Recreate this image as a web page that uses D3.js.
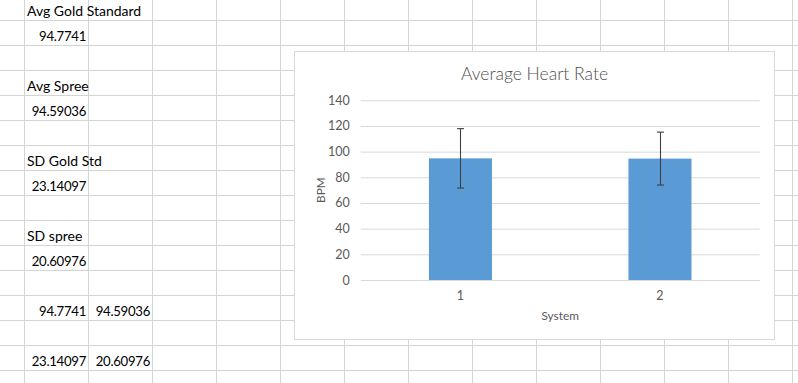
<!DOCTYPE html>
<html><head><meta charset="utf-8">
<script src="https://cdn.jsdelivr.net/npm/d3@7"></script>
<style>
html,body{margin:0;padding:0;background:#fff;overflow:hidden;}
svg{display:block;}
</style></head>
<body>
<svg id="c" width="798" height="383"></svg>
<script>
// ---- data ----
const categories = ["1", "2"];
const avgBPM = [94.7741, 94.59036];
const sdBPM = [23.14097, 20.60976];
const yTicks = [0, 20, 40, 60, 80, 100, 120, 140];
const chartTitle = "Average Heart Rate";
const xTitle = "System";
const yTitle = "BPM";
// spreadsheet cell texts, row by row (columns A, B)
const sheetRows = [
  ["Avg Gold Standard"],
  ["94.7741"],
  [],
  ["Avg Spree"],
  ["94.59036"],
  [],
  ["SD Gold Std"],
  ["23.14097"],
  [],
  ["SD spree"],
  ["20.60976"],
  [],
  ["94.7741", "94.59036"],
  [],
  ["23.14097", "20.60976"],
  []
];

const svg = d3.select("#c");
const W = 798, H = 383;
const colW = 64, rowH = 25, col0 = 24.5, row0 = 20.5;
const gridColor = "#d4d4d4";
const cellFont = "Lato, 'Open Sans', sans-serif";

// spreadsheet grid
const g = svg.append("g");
for (let x = col0; x < W; x += colW)
  g.append("line").attr("x1", x).attr("x2", x).attr("y1", 0).attr("y2", H)
   .attr("stroke", gridColor).attr("stroke-width", 1);
for (let y = row0; y < H; y += rowH)
  g.append("line").attr("x1", 0).attr("x2", W).attr("y1", y).attr("y2", y)
   .attr("stroke", gridColor).attr("stroke-width", 1);

// cell texts
sheetRows.forEach((row, ri) => {
  row.forEach((txt, ci) => {
    const isNum = !isNaN(+txt);
    const left = col0 + ci * colW;
    const baseY = row0 - 5 + ri * rowH;
    g.append("text")
      .attr("x", isNum ? left + colW - 2.5 : left + 2.5)
      .attr("y", baseY)
      .attr("text-anchor", isNum ? "end" : "start")
      .attr("font-family", cellFont)
      .attr("font-size", isNum ? 13.2 : 14)
      .attr("letter-spacing", isNum ? "-0.3px" : null)
      .attr("fill", "#000")
      .text(txt);
  });
});

// chart box
const box = {x: 294.5, y: 51.5, w: 480, h: 288};
svg.append("rect").attr("x", box.x).attr("y", box.y).attr("width", box.w).attr("height", box.h)
  .attr("fill", "#fff").attr("stroke", "#d9d9d9").attr("stroke-width", 1);

const plot = {l: 360.7, r: 759.7, t: 100.3, b: 280};
const x = d3.scaleBand().domain(categories).range([plot.l, plot.r])
  .paddingInner(0.684).paddingOuter(0.342);
const y = d3.scaleLinear().domain([0, 140]).range([plot.b, plot.t]);
const txtColor = "#595959";

// gridlines
const yAxis = d3.axisLeft(y).tickValues(yTicks).tickSize(-(plot.r - plot.l)).tickPadding(11);
const ya = svg.append("g").attr("transform", `translate(${plot.l},0)`).call(yAxis);
ya.select(".domain").remove();
ya.selectAll(".tick line").attr("stroke", "#d9d9d9").attr("stroke-width", 1);
ya.selectAll(".tick text").attr("fill", txtColor).attr("font-family", cellFont).attr("font-size", 12.5);

// bars
svg.append("g").selectAll("rect").data(categories).join("rect")
  .attr("x", d => x(d)).attr("width", x.bandwidth())
  .attr("y", (d, i) => y(avgBPM[i])).attr("height", (d, i) => y(0) - y(avgBPM[i]))
  .attr("fill", "#5b9bd5");

// x axis
const xAxis = d3.axisBottom(x).tickSize(0).tickPadding(11);
const xa = svg.append("g").attr("transform", `translate(0,${plot.b})`).call(xAxis);
xa.select(".domain").attr("stroke", "#d9d9d9");
xa.selectAll(".tick text").attr("fill", txtColor).attr("font-family", cellFont).attr("font-size", 12.5);

// error bars
const eb = svg.append("g").attr("stroke", "#404040").attr("stroke-width", 1.1);
categories.forEach((c, i) => {
  const cx = Math.round(x(c) + x.bandwidth() / 2) + 0.5;
  const top = y(avgBPM[i] + sdBPM[i]), bot = y(avgBPM[i] - sdBPM[i]);
  eb.append("line").attr("x1", cx).attr("x2", cx).attr("y1", top).attr("y2", bot);
  eb.append("line").attr("x1", cx - 3.5).attr("x2", cx + 3.5).attr("y1", top).attr("y2", top);
  eb.append("line").attr("x1", cx - 3.5).attr("x2", cx + 3.5).attr("y1", bot).attr("y2", bot);
});

// titles
svg.append("text").attr("x", box.x + box.w / 2).attr("y", 80).attr("text-anchor", "middle")
  .attr("font-family", cellFont).attr("font-weight", 300).attr("font-size", 17.5)
  .attr("fill", "#505050").text(chartTitle);
svg.append("text").attr("x", (plot.l + plot.r) / 2).attr("y", 320).attr("text-anchor", "middle")
  .attr("font-family", cellFont).attr("font-size", 11.8).attr("fill", txtColor).text(xTitle);
svg.append("text").attr("transform", `translate(324.5,${(plot.t + plot.b) / 2}) rotate(-90)`)
  .attr("text-anchor", "middle").attr("font-family", cellFont).attr("font-size", 11.8)
  .attr("fill", txtColor).text(yTitle);
</script>
</body></html>
